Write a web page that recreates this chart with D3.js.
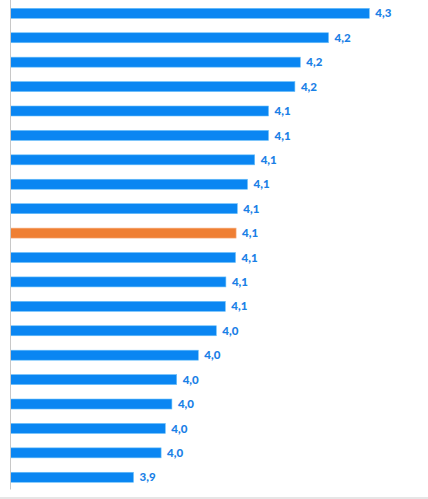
<!DOCTYPE html>
<html>
<head>
<meta charset="utf-8">
<script src="https://cdn.jsdelivr.net/npm/d3@7"></script>
<style>
  html, body { margin: 0; padding: 0; background: #fff; }
  svg { display: block; }
</style>
</head>
<body>
<svg id="chart" width="428" height="499"></svg>
<script>
const categories = ["c1","c2","c3","c4","c5","c6","c7","c8","c9","c10","c11","c12","c13","c14","c15","c16","c17","c18","c19","c20"];
const values = [4.298, 4.230, 4.183, 4.174, 4.130, 4.130, 4.107, 4.095, 4.078, 4.076, 4.075, 4.059, 4.058, 4.043, 4.013, 3.977, 3.969, 3.958, 3.951, 3.905];
const highlighted = ["c10"];

const data = categories.map((c, i) => ({ c, v: values[i] }));
const svg = d3.select("#chart");

const x = d3.scaleLinear().domain([3.7, 4.4]).range([10.5, 430.5]);
const y = d3.scaleBand().domain(categories).range([1, 489.6]).paddingInner(0.5905).paddingOuter(0.3);
const fmt = v => d3.format(".1f")(v).replace(".", ",");

svg.selectAll("rect.bar").data(data).join("rect")
  .attr("class", "bar")
  .attr("x", x(3.7))
  .attr("y", d => y(d.c))
  .attr("width", d => x(d.v) - x(3.7))
  .attr("height", y.bandwidth())
  .attr("fill", d => highlighted.includes(d.c) ? "#ef7f33" : "#0a86f2")
  .attr("stroke", d => highlighted.includes(d.c) ? "#f7b48a" : "#6cc0fa")
  .attr("stroke-width", 0.6);

svg.selectAll("text.lbl").data(data).join("text")
  .attr("class", "lbl")
  .attr("x", d => x(d.v) + 6)
  .attr("y", d => y(d.c) + y.bandwidth() / 2)
  .attr("dy", "0.36em")
  .attr("fill", "#1a80e6")
  .attr("font-family", "Lato, 'Open Sans', sans-serif")
  .attr("font-weight", "900")
  .attr("font-size", "11.5px")
  .text(d => fmt(d.v));

svg.append("line")
  .attr("x1", 10.5).attr("x2", 10.5)
  .attr("y1", 0).attr("y2", 489.5)
  .attr("stroke", "#c8c8c8").attr("stroke-width", 1);

svg.append("rect")
  .attr("x", 0).attr("y", 497).attr("width", 428).attr("height", 2)
  .attr("fill", "#e6e6e6");
</script>
</body>
</html>
